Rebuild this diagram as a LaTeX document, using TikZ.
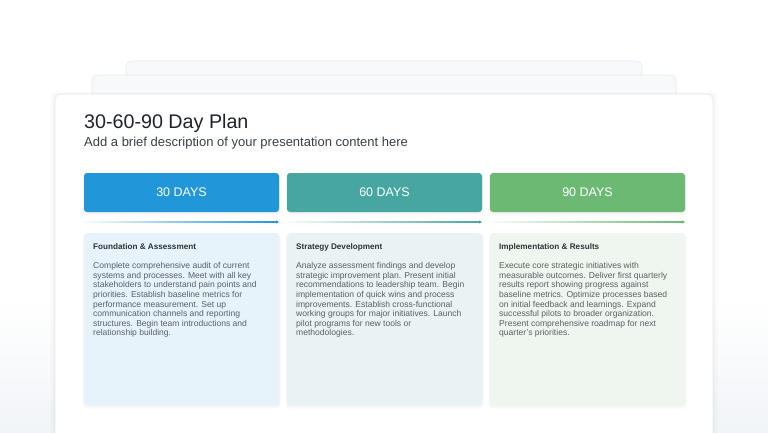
\documentclass[tikz,border=0pt]{standalone}
\usepackage{fontspec}
\setmainfont{Liberation Sans}
\usetikzlibrary{arrows.meta,calc}
\definecolor{cA}{HTML}{2196D8}
\definecolor{cB}{HTML}{47A6A0}
\definecolor{cC}{HTML}{6CB973}
\definecolor{lA}{HTML}{E6F3FB}
\definecolor{lB}{HTML}{E9F3F3}
\definecolor{lC}{HTML}{EFF6EF}
\definecolor{cardline}{HTML}{E6E9ED}
\definecolor{backfill}{HTML}{F8F9FB}
\definecolor{bgbot}{HTML}{F1F4F8}
\definecolor{titlecol}{HTML}{1F2329}
\definecolor{subcol}{HTML}{3A3F47}
\definecolor{bodycol}{HTML}{5A5F66}
\definecolor{headcol}{HTML}{2E3238}
\begin{document}
\begin{tikzpicture}[x=1pt,y=-1pt,
  hdr/.style={rectangle, rounded corners=3pt, minimum width=195pt, minimum height=39pt, inner sep=0pt, text=white, font=\fontsize{12.5}{14}\selectfont},
  cbox/.style={rectangle, rounded corners=3pt, minimum width=195pt, minimum height=172pt, inner sep=0pt, anchor=north west},
  phead/.style={anchor=base west, inner sep=0pt, text=headcol, font=\fontsize{8.15}{9.6}\selectfont\bfseries},
  pbody/.style={anchor=north west, inner sep=0pt, align=left, text=bodycol, font=\fontsize{8.55}{9.6}\selectfont},
  backcard/.style={draw=cardline, fill=backfill, rounded corners=6pt, line width=0.6pt}
]
\useasboundingbox (0,0) rectangle (768,432);
\fill[white] (0,0) rectangle (768,432);
\shade[top color=white, bottom color=bgbot] (0,300) rectangle (768,432);

% back cards
\draw[backcard] (126,61) rectangle (642,120);
\draw[backcard] (92,75) rectangle (676,130);
% main card shadow
\foreach \i in {1,...,5}{
  \fill[black, opacity=0.006, rounded corners=6pt] (55-\i,94-\i*0.4) rectangle (713+\i,450);
}
\draw[fill=white, draw=cardline, line width=0.6pt, rounded corners=6pt] (55,94) rectangle (713,450);

% title
\node[anchor=base west, inner sep=0pt, text=titlecol, font=\fontsize{19.7}{22}\selectfont] (title) at (84,128) {30-60-90 Day Plan};
\node[anchor=base west, inner sep=0pt, text=subcol, font=\fontsize{13}{15}\selectfont] (sub) at (84,146.5) {Add a brief description of your presentation content here};

% header boxes with soft shadow
\foreach \cx in {181.5,384.5,587.5}{
  \foreach \i in {1,...,3}{
    \fill[black, opacity=0.015, rounded corners=4pt] (\cx-97.5-\i*0.6,173+\i*0.5) rectangle (\cx+97.5+\i*0.6,212+\i*1.2);
  }
}
\node[hdr, fill=cA] (h1) at (181.5,192.5) {30 DAYS};
\node[hdr, fill=cB] (h2) at (384.5,192.5) {60 DAYS};
\node[hdr, fill=cC] (h3) at (587.5,192.5) {90 DAYS};

% progress lines
\coordinate (a1) at (84,222);  \coordinate (e1) at (279,222);
\coordinate (a2) at (287,222); \coordinate (e2) at (482,222);
\coordinate (a3) at (490,222); \coordinate (e3) at (685,222);
\foreach \n/\c in {1/cA,2/cB,3/cC}{
  \shade[left color=\c!3, right color=\c] ($(a\n)+(0,-0.4)$) rectangle ($(e\n)+(-2,0.4)$);
  \draw[\c, line width=0.8pt, -{Stealth[length=3pt,width=3pt]}] ($(e\n)+(-3,0)$) -- (e\n);
}

% content boxes shadows
\foreach \lx in {84,287,490}{
  \foreach \i in {1,...,3}{
    \fill[black, opacity=0.014, rounded corners=4pt] (\lx-\i*0.5,233+\i*0.5) rectangle (\lx+195+\i*0.5,405+\i*1.2);
  }
}
\node[cbox, fill=lA] (b1) at (84,233) {};
\node[cbox, fill=lB] (b2) at (287,233) {};
\node[cbox, fill=lC] (b3) at (490,233) {};

\node[phead] (t1) at (93,249) {Foundation \& Assessment};
\node[phead] (t2) at (296,249) {Strategy Development};
\node[phead] (t3) at (499,249) {Implementation \& Results};

\node[pbody] (d1) at (93,262.3) {Complete comprehensive audit of current\\
systems and processes. Meet with all key\\
stakeholders to understand pain points and\\
priorities. Establish baseline metrics for\\
performance measurement. Set up\\
communication channels and reporting\\
structures. Begin team introductions and\\
relationship building.};
\node[pbody] (d2) at (296,262.3) {Analyze assessment findings and develop\\
strategic improvement plan. Present initial\\
recommendations to leadership team. Begin\\
implementation of quick wins and process\\
improvements. Establish cross-functional\\
working groups for major initiatives. Launch\\
pilot programs for new tools or\\
methodologies.};
\node[pbody] (d3) at (499,262.3) {Execute core strategic initiatives with\\
measurable outcomes. Deliver first quarterly\\
results report showing progress against\\
baseline metrics. Optimize processes based\\
on initial feedback and learnings. Expand\\
successful pilots to broader organization.\\
Present comprehensive roadmap for next\\
quarter's priorities.};
\end{tikzpicture}
\end{document}
